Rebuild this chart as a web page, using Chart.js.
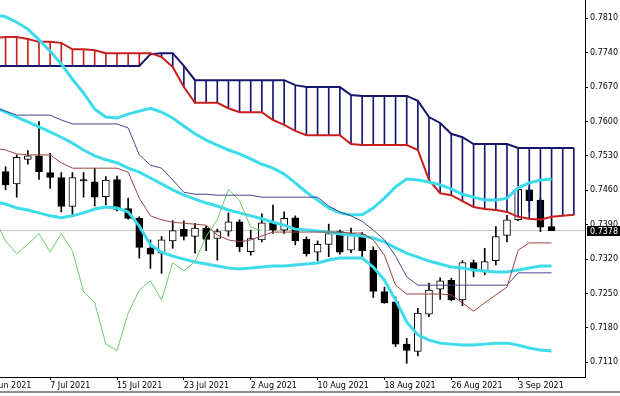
<!DOCTYPE html>
<html>
<head>
<meta charset="utf-8">
<script src="https://cdn.jsdelivr.net/npm/chart.js@4"></script>
<style>
  html, body { margin: 0; padding: 0; background: #fff; }
  #wrap { position: relative; width: 620px; height: 396px; overflow: hidden; }
  #frame { position: absolute; left: 0; top: 391px; width: 620px; height: 2px; background: #8c8c8c; }
</style>
</head>
<body>
<div id="wrap">
  <canvas id="chart" width="620" height="391"></canvas>
  <div id="frame"></div>
</div>
<script>
// bar index 0 = 1 Jul 2021 (daily bars), 4 = 7 Jul, 46 = 3 Sep
const xTickBars = [-2, 4, 10, 16, 22, 28, 34, 40, 46];
const xTickLabels = ['29 Jun 2021', '7 Jul 2021', '15 Jul 2021', '23 Jul 2021', '2 Aug 2021',
                     '10 Aug 2021', '18 Aug 2021', '26 Aug 2021', '3 Sep 2021'];
const yTicks = [0.7110, 0.7180, 0.7250, 0.7320, 0.7390, 0.7460, 0.7530, 0.7600, 0.7670, 0.7740, 0.7810];
const xMin = -0.5, xMax = 52;
const yMin = 0.70801, yMax = 0.78472;
const lastPrice = 0.7378;

// candles, bars 0..49
const opens = [0.7498, 0.7473, 0.7523, 0.7530, 0.7496, 0.7486, 0.7427, 0.7482, 0.7477, 0.7447,
  0.7482, 0.7423, 0.7403, 0.7342, 0.7332, 0.7357, 0.7381, 0.7366, 0.7383, 0.7362,
  0.7377, 0.7396, 0.7335, 0.7359, 0.7394, 0.7379, 0.7404, 0.7360, 0.7334, 0.7350,
  0.7376, 0.7338, 0.7370, 0.7338, 0.7254, 0.7233, 0.7147, 0.7132, 0.7208, 0.7259,
  0.7277, 0.7237, 0.7313, 0.7294, 0.7317, 0.7368, 0.7400, 0.7461, 0.7440, 0.7386];
const highs = [0.7508, 0.7532, 0.7541, 0.7600, 0.7535, 0.7496, 0.7496, 0.7496, 0.7505, 0.7488,
  0.7489, 0.7444, 0.7406, 0.7359, 0.7366, 0.7398, 0.7398, 0.7393, 0.7387, 0.7381,
  0.7414, 0.7400, 0.7379, 0.7412, 0.7430, 0.7416, 0.7408, 0.7365, 0.7357, 0.7391,
  0.7379, 0.7383, 0.7374, 0.7345, 0.7263, 0.7243, 0.7159, 0.7220, 0.7271, 0.7282,
  0.7281, 0.7317, 0.7318, 0.7342, 0.7386, 0.7409, 0.7466, 0.7467, 0.7444, 0.7403];
const lows = [0.7461, 0.7446, 0.7513, 0.7482, 0.7464, 0.7416, 0.7411, 0.7446, 0.7428, 0.7430,
  0.7418, 0.7401, 0.7322, 0.7301, 0.7291, 0.7342, 0.7359, 0.7332, 0.7337, 0.7318,
  0.7367, 0.7335, 0.7328, 0.7355, 0.7372, 0.7372, 0.7349, 0.7326, 0.7316, 0.7325,
  0.7330, 0.7333, 0.7325, 0.7242, 0.7230, 0.7142, 0.7108, 0.7123, 0.7203, 0.7238,
  0.7235, 0.7225, 0.7284, 0.7288, 0.7308, 0.7355, 0.7398, 0.7416, 0.7376, 0.7378];
const closes = [0.7471, 0.7527, 0.7530, 0.7498, 0.7486, 0.7427, 0.7486, 0.7479, 0.7446, 0.7481,
  0.7421, 0.7403, 0.7344, 0.7330, 0.7359, 0.7378, 0.7366, 0.7383, 0.7360, 0.7376,
  0.7396, 0.7345, 0.7362, 0.7394, 0.7379, 0.7403, 0.7357, 0.7331, 0.7350, 0.7372,
  0.7334, 0.7372, 0.7337, 0.7254, 0.7231, 0.7147, 0.7134, 0.7210, 0.7257, 0.7276,
  0.7237, 0.7313, 0.7296, 0.7315, 0.7366, 0.7400, 0.7462, 0.7439, 0.7385, 0.7378];

// indicators, bars -1..49
const bbUpper = [0.7817, 0.7813, 0.7802, 0.7788, 0.7766, 0.7743, 0.7717, 0.7686, 0.7658, 0.7625,
  0.7609, 0.7607, 0.7615, 0.7621, 0.7627, 0.7619, 0.7607, 0.7591, 0.7575, 0.7562,
  0.7552, 0.7542, 0.7534, 0.7524, 0.7513, 0.7505, 0.7493, 0.7475, 0.7456, 0.7440,
  0.7424, 0.7414, 0.7410, 0.7410, 0.7424, 0.7444, 0.7467, 0.7483, 0.7481, 0.7477,
  0.7471, 0.7463, 0.7452, 0.7446, 0.7440, 0.7440, 0.7444, 0.7465, 0.7475, 0.7481, 0.7483];
const bbMiddle = [0.7629, 0.7619, 0.7609, 0.7599, 0.7589, 0.7579, 0.7568, 0.7556, 0.7542, 0.7530,
  0.7522, 0.7516, 0.7505, 0.7497, 0.7485, 0.7473, 0.7461, 0.7450, 0.7442, 0.7434,
  0.7428, 0.7420, 0.7414, 0.7408, 0.7402, 0.7395, 0.7389, 0.7381, 0.7379, 0.7377,
  0.7375, 0.7371, 0.7369, 0.7367, 0.7363, 0.7355, 0.7343, 0.7332, 0.7324, 0.7316,
  0.7310, 0.7304, 0.7302, 0.7298, 0.7296, 0.7294, 0.7294, 0.7298, 0.7302, 0.7306, 0.7306];
const bbLower = [0.7436, 0.7432, 0.7424, 0.7420, 0.7414, 0.7408, 0.7404, 0.7408, 0.7414, 0.7422,
  0.7426, 0.7424, 0.7416, 0.7387, 0.7349, 0.7334, 0.7326, 0.7320, 0.7314, 0.7310,
  0.7306, 0.7302, 0.7300, 0.7302, 0.7304, 0.7306, 0.7306, 0.7308, 0.7310, 0.7312,
  0.7318, 0.7322, 0.7322, 0.7322, 0.7304, 0.7277, 0.7237, 0.7192, 0.7166, 0.7155,
  0.7149, 0.7147, 0.7145, 0.7145, 0.7147, 0.7149, 0.7149, 0.7145, 0.7139, 0.7135, 0.7133];
const tenkan = [0.7546, 0.7542, 0.7534, 0.7532, 0.7532, 0.7532, 0.7516, 0.7505, 0.7505, 0.7505,
  0.7505, 0.7505, 0.7497, 0.7444, 0.7408, 0.7400, 0.7395, 0.7393, 0.7391, 0.7389,
  0.7369, 0.7359, 0.7355, 0.7359, 0.7367, 0.7375, 0.7375, 0.7375, 0.7375, 0.7375,
  0.7375, 0.7375, 0.7373, 0.7373, 0.7359, 0.7328, 0.7267, 0.7249, 0.7249, 0.7249,
  0.7249, 0.7247, 0.7231, 0.7214, 0.7231, 0.7247, 0.7263, 0.7338, 0.7353, 0.7353, 0.7353];
const kijun = [0.7629, 0.7621, 0.7613, 0.7613, 0.7613, 0.7613, 0.7603, 0.7595, 0.7595, 0.7595,
  0.7595, 0.7595, 0.7587, 0.7532, 0.7511, 0.7505, 0.7481, 0.7456, 0.7452, 0.7452,
  0.7450, 0.7450, 0.7450, 0.7450, 0.7446, 0.7446, 0.7446, 0.7446, 0.7446, 0.7446,
  0.7428, 0.7416, 0.7408, 0.7397, 0.7379, 0.7359, 0.7326, 0.7284, 0.7267, 0.7267,
  0.7267, 0.7267, 0.7267, 0.7267, 0.7267, 0.7267, 0.7267, 0.7292, 0.7292, 0.7292, 0.7292];
// chikou, bars -1..23
const chikou = [0.7403, 0.7357, 0.7331, 0.7350, 0.7372, 0.7334, 0.7372, 0.7337, 0.7254, 0.7231,
  0.7147, 0.7134, 0.7210, 0.7257, 0.7276, 0.7237, 0.7313, 0.7296, 0.7315, 0.7366,
  0.7400, 0.7462, 0.7439, 0.7385, 0.7378];
// cloud, bars -1..51
const spanA = [0.7770, 0.7772, 0.7772, 0.7768, 0.7762, 0.7762, 0.7760, 0.7747, 0.7747, 0.7745,
  0.7739, 0.7739, 0.7739, 0.7739, 0.7739, 0.7731, 0.7711, 0.7670, 0.7638, 0.7638,
  0.7638, 0.7627, 0.7619, 0.7619, 0.7619, 0.7603, 0.7593, 0.7581, 0.7572, 0.7572,
  0.7572, 0.7572, 0.7554, 0.7552, 0.7552, 0.7552, 0.7552, 0.7552, 0.7542, 0.7481,
  0.7454, 0.7450, 0.7438, 0.7426, 0.7422, 0.7420, 0.7416, 0.7406, 0.7402, 0.7400,
  0.7406, 0.7408, 0.7410];
const spanB = [0.7713, 0.7713, 0.7713, 0.7713, 0.7713, 0.7713, 0.7713, 0.7713, 0.7713, 0.7713,
  0.7713, 0.7713, 0.7713, 0.7713, 0.7737, 0.7739, 0.7739, 0.7713, 0.7684, 0.7684,
  0.7684, 0.7684, 0.7684, 0.7684, 0.7684, 0.7684, 0.7684, 0.7674, 0.7670, 0.7670,
  0.7670, 0.7670, 0.7654, 0.7652, 0.7652, 0.7652, 0.7652, 0.7652, 0.7642, 0.7609,
  0.7597, 0.7575, 0.7568, 0.7554, 0.7554, 0.7554, 0.7554, 0.7546, 0.7546, 0.7546,
  0.7546, 0.7546, 0.7546];

const RED = '#c81e1e', NAVY = '#16166e';
const pts = (arr, first) => arr.map((v, k) => ({ x: first + k, y: v }));

const candleBodies = opens.map((o, i) => ({ x: i, y: [o, closes[i]] }));
const candleWicks = lows.map((l, i) => ({ x: i, y: [l, highs[i]] }));
const bodyColors = opens.map((o, i) => closes[i] >= o ? '#ffffff' : '#000000');
const hatch = spanA.map((a, k) => ({ x: k - 1, y: [Math.min(a, spanB[k]), Math.max(a, spanB[k])] }));
const hatchColors = spanA.map((a, k) => a >= spanB[k] ? RED : NAVY);

const line = (data, color, width, order) => ({
  type: 'line', data, borderColor: color, borderWidth: width, pointRadius: 0,
  fill: false, tension: 0, order
});

const priceTag = {
  id: 'priceTag',
  afterDraw(chart) {
    const { ctx } = chart;
    const y = chart.scales.y;
    const py = Math.round(y.getPixelForValue(lastPrice));
    ctx.save();
    ctx.fillStyle = '#000';
    ctx.fillRect(y.left + 2, py - 5, chart.width - y.left - 2, 10);
    ctx.fillStyle = '#fff';
    ctx.font = '8px "DejaVu Sans"';
    ctx.textBaseline = 'middle';
    ctx.fillText(lastPrice.toFixed(4), y.left + 5, py + 0.5);
    ctx.restore();
  }
};

Chart.defaults.font.family = '"DejaVu Sans", sans-serif';
Chart.defaults.font.size = 8;
Chart.defaults.color = '#000';

new Chart(document.getElementById('chart'), {
  type: 'bar',
  data: {
    datasets: [
      line([{ x: xMin, y: lastPrice }, { x: xMax, y: lastPrice }], '#c8c8c8', 1, 20),
      { data: candleWicks, backgroundColor: '#000', borderWidth: 0, barThickness: 1,
        grouped: false, order: 12 },
      { data: candleBodies, backgroundColor: bodyColors, borderColor: '#000', borderWidth: 1,
        borderSkipped: false, barThickness: 7, grouped: false, order: 11 },
      { data: hatch, backgroundColor: hatchColors, borderWidth: 0, barThickness: 1,
        grouped: false, order: 8 },
      line(pts(spanA, -1), RED, 2, 6),
      line(pts(spanB, -1), NAVY, 2, 6),
      line(pts(bbUpper, -1), '#3cdcea', 3, 4),
      line(pts(bbMiddle, -1), '#3cdcea', 3, 4),
      line(pts(bbLower, -1), '#3cdcea', 3, 4),
      line(pts(tenkan, -1), '#9a4646', 1, 2),
      line(pts(kijun, -1), '#46468c', 1, 2),
      line(pts(chikou, -1), '#6ccb6c', 1, 2)
    ]
  },
  options: {
    responsive: false,
    animation: false,
    layout: { padding: 0 },
    plugins: { legend: { display: false }, tooltip: { enabled: false } },
    scales: {
      x: {
        type: 'linear', min: xMin, max: xMax, bounds: 'data', offset: false,
        grid: { offset: false, drawOnChartArea: false, drawTicks: true, tickLength: 3, color: '#000' },
        border: { display: true, color: '#000' },
        ticks: {
          align: 'start', autoSkip: false, maxRotation: 0, padding: 1,
          callback: v => xTickLabels[xTickBars.indexOf(v)] ?? ''
        },
        afterBuildTicks: s => { s.ticks = xTickBars.map(v => ({ value: v })); },
        afterFit: s => { s.height = 14; s.paddingLeft = 0; s.paddingRight = 0; }
      },
      y: {
        type: 'linear', position: 'right', min: yMin, max: yMax, bounds: 'data',
        grid: { drawOnChartArea: false, drawTicks: true, tickLength: 3, color: '#000' },
        border: { display: true, color: '#000' },
        ticks: { padding: 2, callback: v => v.toFixed(4) },
        afterBuildTicks: s => { s.ticks = yTicks.map(v => ({ value: v })); },
        afterFit: s => { s.width = 35; s.paddingTop = 0; s.paddingBottom = 0; }
      }
    }
  },
  plugins: [priceTag]
});
</script>
</body>
</html>
